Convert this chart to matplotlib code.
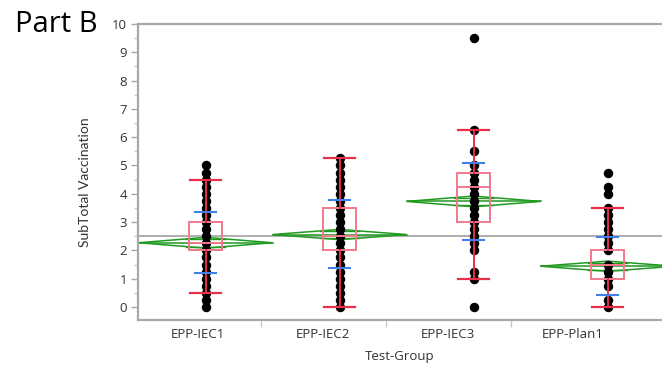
import numpy as np
import matplotlib
matplotlib.use("Agg")
import matplotlib.pyplot as plt
from matplotlib.patches import Polygon, Rectangle

# ---------------- data ----------------
groups = ["EPP-IEC1", "EPP-IEC2", "EPP-IEC3", "EPP-Plan1"]

iec1 = [0, 0.25, 0.5, 0.75, 1, 1.25, 1.5, 1.75, 2, 2.25, 2.5, 2.75, 3, 3.25,
        3.5, 3.75, 4, 4.25, 4.5, 4.75, 5]
iec2 = [0, 0.25, 0.5, 0.75, 1, 1.25, 1.5, 1.75, 2, 2.25, 2.5, 2.75, 3, 3.25,
        3.5, 3.75, 4, 4.25, 4.5, 4.75, 5, 5.25]
iec3 = [0, 1, 1.25, 2, 2.25, 2.5, 2.75, 3, 3.25, 3.5, 3.75, 4, 4.25, 4.5,
        4.75, 5, 5.5, 6.25, 9.5]
plan1 = [0, 0.25, 0.75, 1, 1.25, 1.5, 2, 2.25, 2.5, 2.75, 3, 3.25, 3.5, 4,
         4.25, 4.75]
points = [iec1, iec2, iec3, plan1]

q1 = [2.0, 2.0, 3.0, 1.0]
median = [2.25, 2.5, 4.25, 1.5]
q3 = [3.0, 3.5, 4.75, 2.0]
whisk_lo = [0.5, 0.0, 1.0, 0.0]
whisk_hi = [4.5, 5.25, 6.25, 3.5]
means = [2.27, 2.56, 3.73, 1.44]
sd_lo = [1.19, 1.37, 2.38, 0.42]
sd_hi = [3.34, 3.78, 5.10, 2.47]
ci_half = [0.19, 0.18, 0.19, 0.18]
grand_mean = 2.51

y_ticks = list(range(0, 11))

# ---------------- style ----------------
red = "#e8304a"
pink = "#f07a8c"
blue = "#3f7fe6"
green = "#1f9a1f"
grey = "#a8a8a8"
txt = "#333333"

fig = plt.figure(figsize=(6.62, 3.70), dpi=100)
ax = fig.add_axes([138 / 662, 1 - 320 / 370, 1 - 138 / 662, (320 - 24) / 370])

xs = np.arange(len(groups))

# grand mean line
ax.axhline(grand_mean, color=grey, lw=1.3, zorder=1)

# means diamonds
dw = 0.5
for x, m, c in zip(xs, means, ci_half):
    poly = Polygon([[x - dw, m], [x, m + c], [x + dw, m], [x, m - c]],
                   closed=True, fill=False, edgecolor=green, lw=1.1, zorder=2)
    ax.add_patch(poly)
    ax.plot([x - dw, x + dw], [m, m], color=green, lw=1.1, zorder=2)
    ov = c / np.sqrt(2)
    hw = dw * (1 - 1 / np.sqrt(2))
    for s in (-1, 1):
        ax.plot([x - hw, x + hw], [m + s * ov, m + s * ov], color=green, lw=1.0, zorder=2)

# points
for x, vals in zip(xs, points):
    ax.plot(np.full(len(vals), x), vals, "o", color="black", ms=5.8,
            mec="black", zorder=3, clip_on=False)

# boxes
bw = 0.12
cw = 0.115
for x, a, md, b, lo, hi in zip(xs, q1, median, q3, whisk_lo, whisk_hi):
    ax.add_patch(Rectangle((x - bw, a), 2 * bw, b - a, fill=False,
                           edgecolor=pink, lw=1.4, zorder=4))
    ax.plot([x - bw, x + bw], [md, md], color=pink, lw=1.4, zorder=4)
    ax.plot([x, x], [b, hi], color=red, lw=1.4, zorder=4)
    ax.plot([x, x], [lo, a], color=red, lw=1.4, zorder=4)
    ax.plot([x - cw, x + cw], [hi, hi], color=red, lw=1.6, zorder=4)
    ax.plot([x - cw, x + cw], [lo, lo], color=red, lw=1.6, zorder=4)

# mean +/- sd
sw = 0.08
for x, lo, hi in zip(xs, sd_lo, sd_hi):
    ax.plot([x - sw, x + sw], [lo, lo], color=blue, lw=1.5, zorder=5)
    ax.plot([x - sw, x + sw], [hi, hi], color=blue, lw=1.5, zorder=5)

# ---------------- axes ----------------
ax.set_xlim(-0.504, (662 - 205.5) / 134)
ax.set_ylim(-0.46, 10)

for side in ("left", "top", "bottom"):
    ax.spines[side].set_color(grey)
    ax.spines[side].set_linewidth(1.6)
ax.spines["right"].set_visible(False)

ax.set_yticks(y_ticks)
ax.set_yticks(np.arange(0.5, 10, 1.0), minor=True)
ax.tick_params(axis="y", which="major", length=5, width=1, color=grey,
               labelsize=9.5, labelcolor=txt, pad=3)
ax.tick_params(axis="y", which="minor", length=3, width=1, color="#c8c8c8")
for lab in ax.get_yticklabels():
    lab.set_family(["Open Sans", "DejaVu Sans"])

# category labels (screenshot axis is spaced slightly differently from the marks)
lab_step = 125 / 134
lab_off = (198 - 205.5) / 134
lab_pos = [lab_off + k * lab_step for k in range(len(groups))]
sep_pos = [p + lab_step / 2 for p in lab_pos[:-1]]
ax.set_xticks(lab_pos)
ax.set_xticklabels(groups, family=["Open Sans", "DejaVu Sans"], fontsize=9.5, color=txt)
ax.tick_params(axis="x", which="major", length=0, pad=6)
ax.set_xticks(sep_pos, minor=True)
ax.tick_params(axis="x", which="minor", length=5, width=1, color="#c8c8c8")

ax.set_xlabel("Test-Group", family=["Open Sans", "DejaVu Sans"], fontsize=9.5,
              color=txt, labelpad=6)
fig.text(85 / 662, 1 - 182 / 370, "SubTotal Vaccination", rotation=90,
         ha="center", va="center", fontsize=10, color=txt,
         family=["Lato", "DejaVu Sans"])

fig.text(15 / 662, 1 - 25 / 370, "Part B", ha="left", va="center",
         fontsize=21, color="black", family=["Open Sans", "DejaVu Sans"])

fig.savefig("out.png", dpi=100)
